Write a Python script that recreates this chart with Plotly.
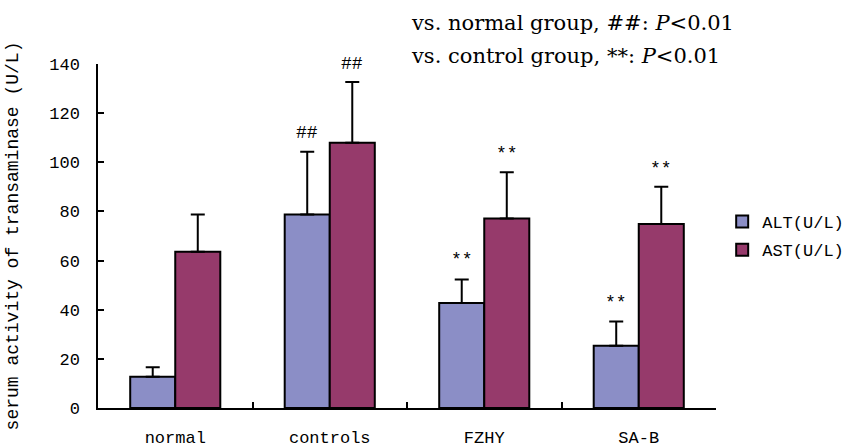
import plotly.graph_objects as go

categories = ["normal", "controls", "FZHY", "SA-B"]
alt_values = [12.7, 78.7, 42.7, 25.3]
alt_errors = [3.9, 25.6, 9.6, 9.9]
ast_values = [63.6, 108.0, 77.1, 74.9]
ast_errors = [15.1, 24.7, 18.8, 15.1]
alt_marks = ["", "##", "**", "**"]
ast_marks = ["", "##", "**", "**"]
y_ticks = [0, 20, 40, 60, 80, 100, 120, 140]

ALT_COLOR = "#8b8ec6"
AST_COLOR = "#963a6b"
MONO = "Liberation Mono"
BAR_HALF_PX = 22.5

fig = go.Figure()
fig.add_trace(go.Bar(
    x=categories, y=alt_values, name="ALT(U/L)", legendgroup="a",
    marker=dict(color=ALT_COLOR, line=dict(color="black", width=2)),
    error_y=dict(type="data", symmetric=False, array=alt_errors,
                 arrayminus=[0] * len(alt_errors), color="black",
                 thickness=2, width=7),
))
fig.add_trace(go.Bar(
    x=categories, y=ast_values, name="AST(U/L)", legendgroup="b",
    marker=dict(color=AST_COLOR, line=dict(color="black", width=2)),
    error_y=dict(type="data", symmetric=False, array=ast_errors,
                 arrayminus=[0] * len(ast_errors), color="black",
                 thickness=2, width=7),
))

annotations = []
for cat, v, e, m in zip(categories, alt_values, alt_errors, alt_marks):
    if m:
        annotations.append(dict(x=cat, y=v + e, xref="x", yref="y", text=m,
                                showarrow=False, xshift=-BAR_HALF_PX, yshift=7,
                                yanchor="bottom",
                                font=dict(family=MONO, size=18, color="black")))
for cat, v, e, m in zip(categories, ast_values, ast_errors, ast_marks):
    if m:
        annotations.append(dict(x=cat, y=v + e, xref="x", yref="y", text=m,
                                showarrow=False, xshift=BAR_HALF_PX, yshift=6,
                                yanchor="bottom",
                                font=dict(family=MONO, size=18, color="black")))

annotations.append(dict(xref="paper", yref="paper", x=(409 - 98) / 618, y=1 + (64 - 23) / 344,
                        xanchor="left", yanchor="middle", showarrow=False,
                        text="vs. normal group, ##: <i>P</i><0.01",
                        font=dict(family="DejaVu Serif", size=21, color="black")))
annotations.append(dict(xref="paper", yref="paper", x=(409 - 98) / 618, y=1 + (64 - 56) / 344,
                        xanchor="left", yanchor="middle", showarrow=False,
                        text="vs. control group, **: <i>P</i><0.01",
                        font=dict(family="DejaVu Serif", size=21, color="black")))

fig.update_layout(
    width=845, height=448,
    margin=dict(l=98, r=129, t=64, b=40, autoexpand=False),
    paper_bgcolor="white", plot_bgcolor="white",
    barmode="group", bargap=0.417, bargroupgap=0,
    showlegend=True,
    legend=dict(x=1.01, y=0.50, xanchor="left", yanchor="middle",
                font=dict(family=MONO, size=17, color="black"),
                itemwidth=30, tracegroupgap=3, bgcolor="rgba(0,0,0,0)"),
    annotations=annotations,
    font=dict(family=MONO, color="black"),
)
fig.update_xaxes(
    automargin=False,
    showline=True, linecolor="black", linewidth=1.5,
    ticks="inside", ticklen=6, tickcolor="black", tickwidth=1.5,
    tickson="boundaries", showgrid=False,
    tickfont=dict(family=MONO, size=17, color="black"),
    ticklabelstandoff=13,
)
fig.update_yaxes(
    automargin=False,
    range=[0, 140], tickvals=y_ticks, showline=True, linecolor="black", linewidth=1.5,
    ticks="inside", ticklen=6, tickcolor="black", tickwidth=1.5,
    showgrid=False, zeroline=False,
    tickfont=dict(family=MONO, size=17, color="black"),
    ticklabelstandoff=13,
    title=dict(text="serum activity of transaminase (U/L)", standoff=26,
               font=dict(family=MONO, size=18, color="black")),
)

fig.write_html("out.html")
